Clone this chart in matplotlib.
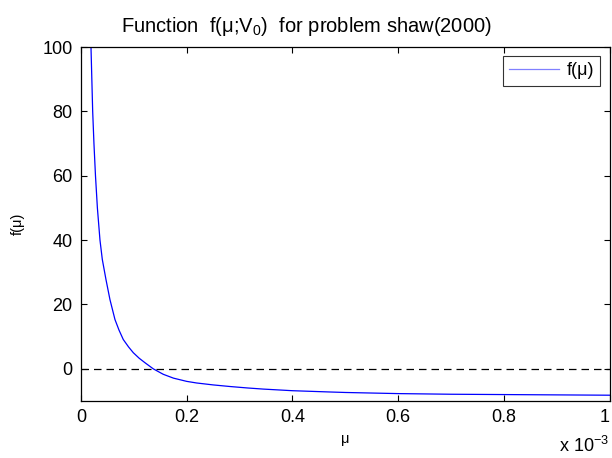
import matplotlib
matplotlib.use("Agg")
import matplotlib.pyplot as plt

plt.rcParams['font.family'] = ['Liberation Sans', 'DejaVu Sans']

# mu values in units of 1e-3
mu = [0.0189, 0.0221, 0.0245, 0.0274, 0.031, 0.0359, 0.0403, 0.0473, 0.0548,
      0.0643, 0.072, 0.080, 0.090, 0.099, 0.110, 0.121, 0.1367, 0.1556, 0.175,
      0.2, 0.2187, 0.25, 0.282, 0.315, 0.345, 0.4, 0.471, 0.5, 0.6, 0.7, 0.8,
      0.9, 1.0]
f_mu = [100, 80, 70, 60, 50, 40, 34, 27.7, 21.5,
        15.3, 12, 9.1, 6.8, 5.0, 3.3, 1.9, 0, -1.7, -2.9,
        -3.9, -4.4, -5.0, -5.5, -5.95, -6.3, -6.8, -7.2, -7.35, -7.7, -7.9, -8.0,
        -8.1, -8.2]
xticks = [0, 0.2, 0.4, 0.6, 0.8, 1]
xticklabels = ['0', '0.2', '0.4', '0.6', '0.8', '1']
yticks = [0, 20, 40, 60, 80, 100]

fig = plt.figure(figsize=(6.12, 4.58), dpi=100)
ax = fig.add_axes([81/612, 57/458, 528.5/612, 354/458])

ax.plot(mu, f_mu, color='#0000ff', lw=0.9, label='f(\u03bc)')
ax.axhline(0, color='black', lw=0.9, ls=(0, (6, 4)))

ax.set_xlim(0, 1)
ax.set_ylim(-10, 100)
ax.set_xticks(xticks)
ax.set_xticklabels(xticklabels)
ax.set_yticks(yticks)
ax.tick_params(direction='in', length=4, width=0.8, top=True, right=True,
               labelsize=13, pad=6)
ax.get_xticklabels()[-1].set_horizontalalignment('right')
for s in ax.spines.values():
    s.set_linewidth(0.9)

ax.set_title('Function  f(\u03bc;V$_{\\mathregular{0}}$)  for problem shaw(2000)',
             fontsize=14.5, pad=11, x=(306 - 81) / 528.5)
ax.set_xlabel('\u03bc', fontsize=10.5, labelpad=4)
ax.set_ylabel('f(\u03bc)', fontsize=10.5, labelpad=13)

ax.text(1.0, -0.098, 'x 10$^{\\mathregular{-3}}$', transform=ax.transAxes,
        ha='right', va='top', fontsize=13)

leg = ax.legend(loc='upper right', fontsize=13, frameon=True, fancybox=False,
                edgecolor='black', borderaxespad=0.5, handlelength=2.8,
                handletextpad=0.4, borderpad=0.35)
leg.get_frame().set_linewidth(0.8)
leg.get_lines()[0].set_color('#8080ff')

fig.savefig('out.png', dpi=100)
